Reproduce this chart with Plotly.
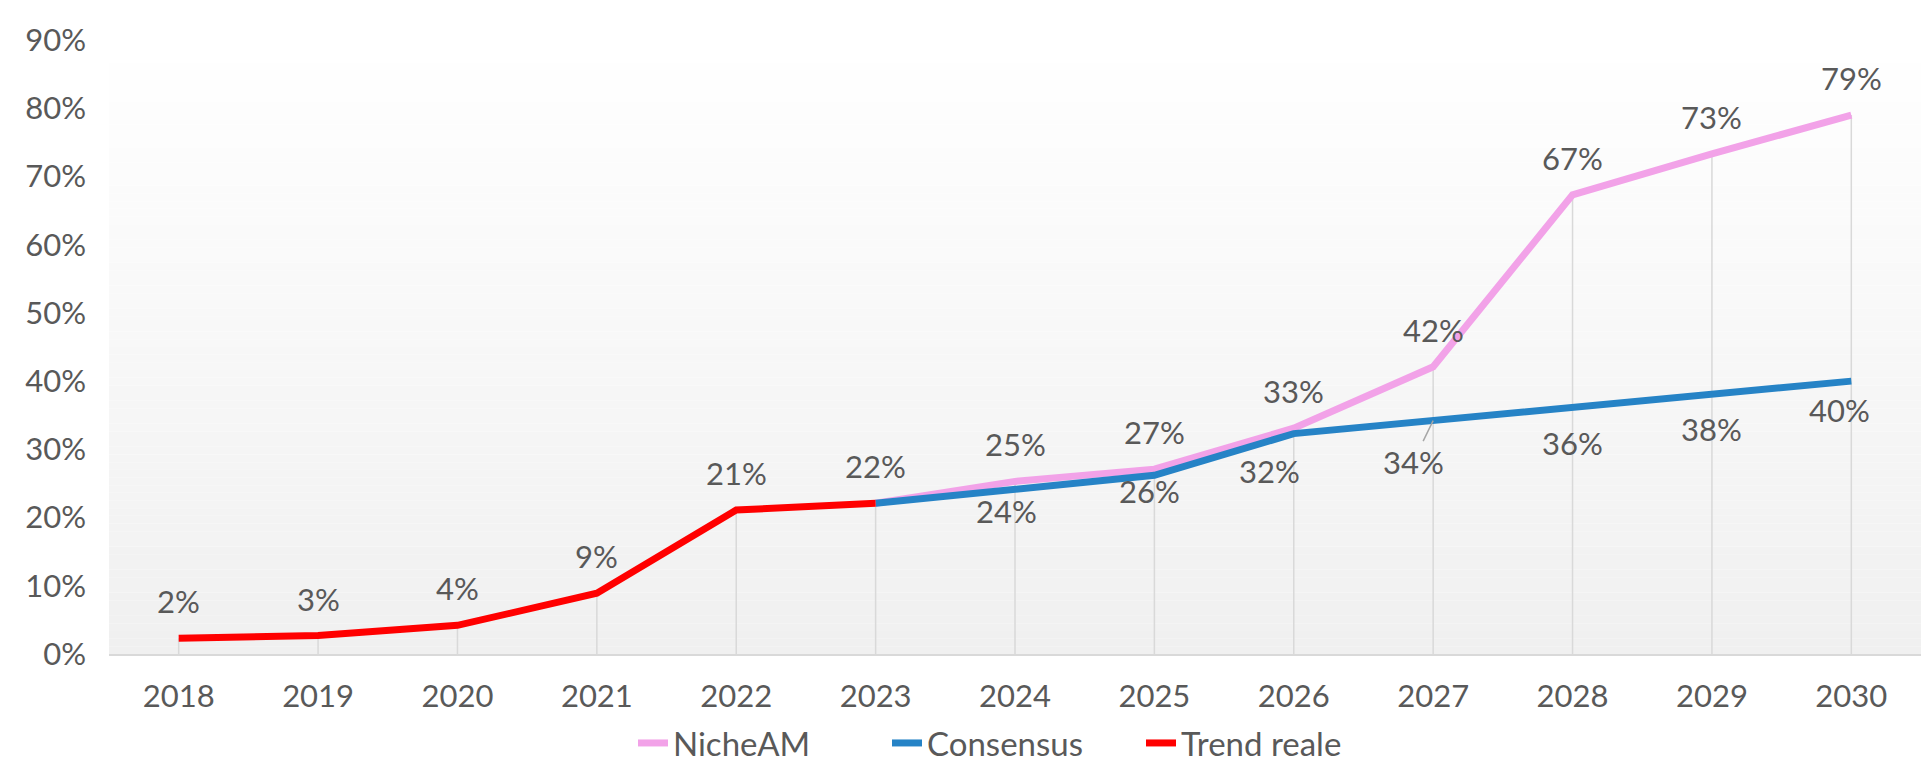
import plotly.graph_objects as go

years = ["2018", "2019", "2020", "2021", "2022", "2023", "2024",
         "2025", "2026", "2027", "2028", "2029", "2030"]

trend_years = ["2018", "2019", "2020", "2021", "2022", "2023"]
trend_vals = [0.023, 0.027, 0.042, 0.089, 0.211, 0.221]

fc_years = ["2023", "2024", "2025", "2026", "2027", "2028", "2029", "2030"]
niche_vals = [0.221, 0.253, 0.271, 0.331, 0.421, 0.673, 0.733, 0.790]
cons_vals = [0.221, 0.242, 0.262, 0.323, 0.342, 0.361, 0.381, 0.400]

y_ticks = [0, 0.1, 0.2, 0.3, 0.4, 0.5, 0.6, 0.7, 0.8, 0.9]

TEXT = "#595959"
FONT = "Lato, 'Liberation Sans', sans-serif"
FS = 31
PINK = "#F2A2E8"
BLUE = "#2683C6"
RED = "#FF0000"

W, H = 1913, 763  # page body has an 8px margin

fig = go.Figure()

# drop lines from the highest point of each year to the axis
top = {}
for xs, ys in ((trend_years, trend_vals), (fc_years, niche_vals), (fc_years, cons_vals)):
    for x, v in zip(xs, ys):
        top[x] = max(top.get(x, 0), v)
dx, dy = [], []
for x in years:
    dx += [x, x, None]
    dy += [0, top[x], None]
fig.add_trace(go.Scatter(x=dx, y=dy, mode="lines", line=dict(color="#d9d9d9", width=1.5),
                         hoverinfo="skip", showlegend=False))

fig.add_trace(go.Scatter(x=fc_years, y=niche_vals, mode="lines", name="NicheAM",
                         line=dict(color=PINK, width=7)))
fig.add_trace(go.Scatter(x=fc_years, y=cons_vals, mode="lines", name="Consensus",
                         line=dict(color=BLUE, width=7)))
fig.add_trace(go.Scatter(x=trend_years, y=trend_vals, mode="lines", name="Trend reale",
                         line=dict(color=RED, width=7)))

def pct(v):
    return f"{round(v * 100)}%"

def xi(year):
    return years.index(year)

ann = []
ABOVE = 37
BELOW = -35
for x, v in zip(trend_years, trend_vals):
    ann.append(dict(x=xi(x), y=v, text=pct(v), showarrow=False, yshift=ABOVE))
for x, v in zip(fc_years[1:], niche_vals[1:]):
    ann.append(dict(x=xi(x), y=v, text=pct(v), showarrow=False, yshift=ABOVE))

cons_shift = {"2024": (-9, -22), "2025": (-5, -16), "2026": (-24, -37), "2030": (-12, -29)}
for x, v in zip(fc_years[1:], cons_vals[1:]):
    if x == "2027":
        ann.append(dict(x=xi(x), y=v, text=pct(v), showarrow=True, ax=-20, ay=41,
                        arrowhead=0, arrowwidth=1.5, arrowcolor="#a6a6a6", standoff=0))
    else:
        sx, sy = cons_shift.get(x, (0, BELOW))
        ann.append(dict(x=xi(x), y=v, text=pct(v), showarrow=False, xshift=sx, yshift=sy))
for a in ann:
    a["font"] = dict(family=FONT, size=FS, color=TEXT)

# vertical gradient background of the plot area
shapes = []
N = 80
for i in range(N):
    t = i / (N - 1)  # 0 bottom -> 1 top
    c = int(round(240 + (255 - 240) * t))
    shapes.append(dict(type="rect", xref="paper", yref="paper", x0=0, x1=1,
                       y0=i / N, y1=(i + 1) / N, fillcolor=f"rgb({c},{c},{c})",
                       line=dict(width=0), layer="below"))

fig.update_layout(
    width=W, height=H,
    margin=dict(l=101, r=0, t=32, b=H - 646, autoexpand=False),
    paper_bgcolor="white", plot_bgcolor="white",
    shapes=shapes, annotations=ann,
    font=dict(family=FONT, size=FS, color=TEXT),
    showlegend=True,
    legend=dict(orientation="h", x=625 / W, xref="container", xanchor="left",
                y=0.0, yref="container", yanchor="bottom",
                font=dict(family=FONT, size=33, color=TEXT), bgcolor="rgba(0,0,0,0)",
                entrywidth=209, tracegroupgap=0),
    xaxis=dict(type="category", categoryorder="array", categoryarray=years,
               range=[-0.5, len(years) - 0.5], showgrid=False, zeroline=False,
               showline=True, linecolor="#d9d9d9", linewidth=2, ticks="", automargin=False,
               tickfont=dict(family=FONT, size=FS, color=TEXT), ticklabelstandoff=14),
    yaxis=dict(range=[0, 0.9], tickvals=y_ticks, tickformat=".0%", showgrid=False,
               zeroline=False, showline=False, ticks="", automargin=False,
               tickfont=dict(family=FONT, size=FS, color=TEXT), ticklabelstandoff=22),
)

fig.write_html("out.html")
